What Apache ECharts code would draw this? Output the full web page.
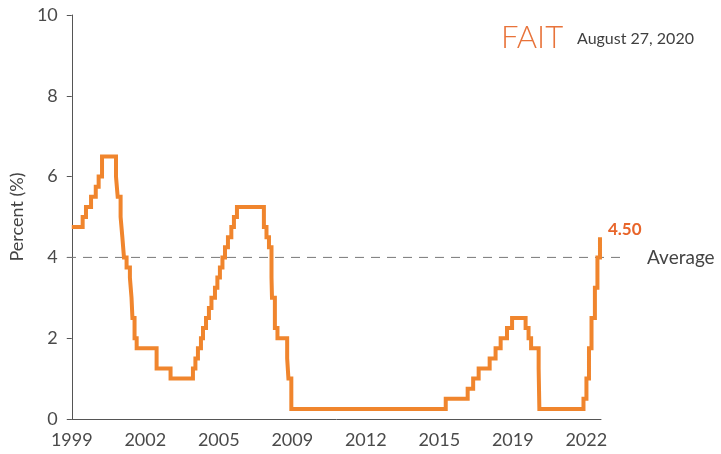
<!DOCTYPE html>
<html>
<head>
<meta charset="utf-8">
<script src="https://cdn.jsdelivr.net/npm/echarts@6/dist/echarts.min.js"></script>
<style>
  html, body { margin: 0; padding: 0; background: #fff; }
  #chart { width: 721px; height: 454px; }
</style>
</head>
<body>
<div id="chart"></div>
<script>
// fed funds target (upper bound) - date the rate took effect
var rateDates = [
    '1999-01-01', '1999-06-30', '1999-08-24', '1999-11-16', '2000-02-02', '2000-03-21', '2000-05-16',
    '2001-01-03', '2001-01-31', '2001-03-20', '2001-04-18', '2001-05-15', '2001-06-27', '2001-08-21',
    '2001-09-17', '2001-10-02', '2001-11-06', '2001-12-11', '2002-11-06', '2003-06-25',
    '2004-06-30', '2004-08-10', '2004-09-21', '2004-11-10', '2004-12-14', '2005-02-02', '2005-03-22',
    '2005-05-03', '2005-06-30', '2005-08-09', '2005-09-20', '2005-11-01', '2005-12-13', '2006-01-31',
    '2006-03-28', '2006-05-10', '2006-06-29', '2007-09-18', '2007-10-31', '2007-12-11', '2008-01-22',
    '2008-01-30', '2008-03-18', '2008-04-30', '2008-10-08', '2008-10-29', '2008-12-16',
    '2015-12-17', '2016-12-15', '2017-03-16', '2017-06-15', '2017-12-14', '2018-03-22', '2018-06-14',
    '2018-09-27', '2018-12-20', '2019-08-01', '2019-09-19', '2019-10-31', '2020-03-04', '2020-03-16',
    '2022-03-17', '2022-05-05', '2022-06-16', '2022-07-28', '2022-09-22', '2022-11-03', '2022-12-15'
];
var rateValues = [
    4.75, 5.00, 5.25, 5.50, 5.75, 6.00, 6.50,
    6.00, 5.50, 5.00, 4.50, 4.00, 3.75, 3.50,
    3.00, 2.50, 2.00, 1.75, 1.25, 1.00,
    1.25, 1.50, 1.75, 2.00, 2.25, 2.50, 2.75,
    3.00, 3.25, 3.50, 3.75, 4.00, 4.25, 4.50,
    4.75, 5.00, 5.25, 4.75, 4.50, 4.25, 3.50,
    3.00, 2.25, 2.00, 1.50, 1.00, 0.25,
    0.50, 0.75, 1.00, 1.25, 1.50, 1.75, 2.00,
    2.25, 2.50, 2.25, 2.00, 1.75, 1.25, 0.25,
    0.50, 1.00, 1.75, 2.50, 3.25, 4.00, 4.50
];
var averageValue = 4;
var yTicks = [0, 2, 4, 6, 8, 10];
var yearStart = 1999, yearEnd = 2023;

var toYear = function (s) {
    var d = new Date(s + 'T00:00:00Z');
    var y = d.getUTCFullYear();
    var a = Date.UTC(y, 0, 1), b = Date.UTC(y + 1, 0, 1);
    return y + (d.getTime() - a) / (b - a);
};

var lineData = rateDates.map(function (s, i) {
    return [toYear(s), rateValues[i]];
});

var chart = echarts.init(document.getElementById('chart'));
var font = 'Lato, "Open Sans", sans-serif';

var option = {
    animation: false,
    grid: [
        {left: 67, right: 120, top: 15, bottom: 35},
        {left: 67, right: 94, top: 15, bottom: 35}
    ],
    xAxis: [{
        type: 'value',
        gridIndex: 0,
        min: yearStart,
        max: yearEnd,
        interval: 10 / 3,
        splitLine: {show: false},
        axisTick: {show: false},
        axisLine: {lineStyle: {color: '#555', width: 1}},
        axisLabel: {
            showMaxLabel: false,
            color: '#4a4a4a',
            fontFamily: font,
            fontSize: 18,
            margin: 12,
            formatter: function (v) {
                if (v > yearEnd - 0.5) return '';
                return String(Math.floor(v + 1e-6));
            }
        }
    }, {
        type: 'value',
        gridIndex: 1,
        min: 0,
        max: 1,
        show: false
    }],
    yAxis: [{
        type: 'value',
        gridIndex: 0,
        min: yTicks[0],
        max: yTicks[yTicks.length - 1],
        interval: 2,
        splitLine: {show: false},
        axisLine: {show: true, lineStyle: {color: '#555', width: 1}},
        axisTick: {show: true, length: 5, lineStyle: {color: '#555'}},
        axisLabel: {color: '#4a4a4a', fontFamily: font, fontSize: 18, margin: 14},
        name: 'Percent (%)',
        nameLocation: 'middle',
        nameGap: 42,
        nameTextStyle: {color: '#444', fontFamily: font, fontSize: 18}
    }, {
        type: 'value',
        gridIndex: 1,
        min: 0,
        max: 10,
        show: false
    }],
    graphic: [{
        type: 'text',
        left: 501,
        top: 22,
        style: {text: 'FAIT', fill: '#E8733A', font: '300 31px ' + font}
    }, {
        type: 'text',
        left: 577,
        top: 31,
        style: {text: 'August 27, 2020', fill: '#3f3f3f', font: '16px ' + font}
    }],
    series: [{
        name: 'Average',
        type: 'line',
        xAxisIndex: 1,
        yAxisIndex: 1,
        symbol: 'none',
        silent: true,
        lineStyle: {color: '#777', width: 1, type: [9, 7]},
        endLabel: {
            show: true,
            distance: 20,
            color: '#444',
            fontFamily: font,
            fontSize: 19,
            formatter: 'Average'
        },
        data: [[0, averageValue], [1, averageValue]]
    }, {
        name: 'Rate',
        type: 'line',
        step: 'end',
        symbol: 'none',
        lineStyle: {color: '#F0852D', width: 4, cap: 'butt', join: 'miter'},
        endLabel: {
            show: true,
            distance: 8,
            offset: [0, -8],
            color: '#E8652A',
            fontFamily: font,
            fontWeight: 'bold',
            fontSize: 17,
            formatter: function (p) { return p.value[1].toFixed(2); }
        },
        data: lineData
    }]
};

chart.setOption(option);
</script>
</body>
</html>
